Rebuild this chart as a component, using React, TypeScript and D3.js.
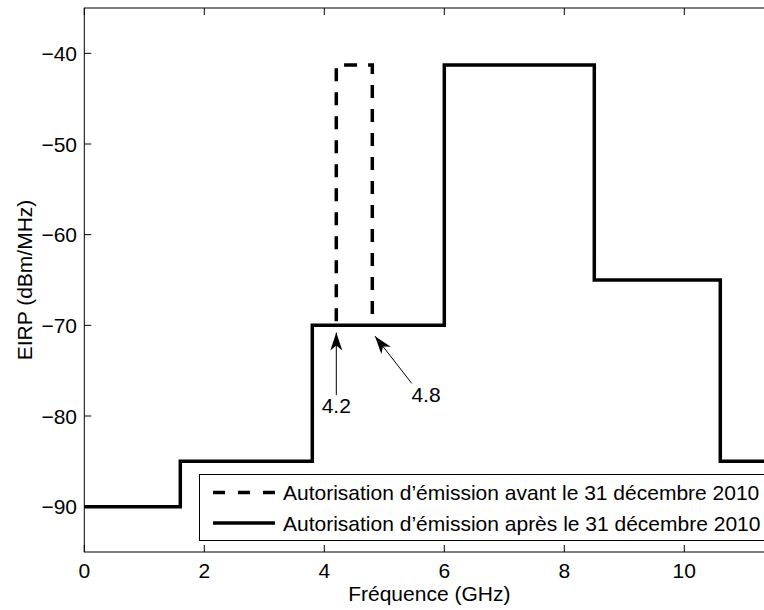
import React from "react";
import * as d3 from "d3";

// ---- data ----
const bandEdges = [0, 1.6, 3.8, 6.0, 8.5, 10.6, 11.5]; // GHz
const afterLevels = [-90, -85, -70, -41.3, -65, -85]; // dBm/MHz, after 31 Dec 2010
const beforeX = [4.2, 4.2, 4.8, 4.8]; // GHz, before 31 Dec 2010 (extra window)
const beforeY = [-70, -41.3, -41.3, -70];
const xTicks = [0, 2, 4, 6, 8, 10];
const yTicks = [-90, -80, -70, -60, -50, -40];
const xDomain = [0, 11.5];
const yDomain = [-95, -35];
const legendLabels = [
  "Autorisation d\u2019émission avant le 31 décembre 2010",
  "Autorisation d\u2019émission après le 31 décembre 2010",
];
const annotations = [
  { label: "4.2", tip: [4.2, -70.8], tail: [4.2, -77.7], text: [4.2, -79.7] },
  { label: "4.8", tip: [4.845, -71.2], tail: [5.457, -76.4], text: [5.695, -78.5] },
];
const xLabel = "Fréquence (GHz)";
const yLabel = "EIRP (dBm/MHz)";

const W = 764;
const H = 610;
const M = { left: 84.3, top: 8, right: 774.3, bottom: 552 };
const FONT = "'Liberation Sans', Arial, Helvetica, sans-serif";
const FS = 21;

function fmt(v: number) {
  return v < 0 ? "\u2212" + Math.abs(v) : String(v);
}

export default function App() {
  const x = d3.scaleLinear().domain(xDomain).range([M.left, M.right]);
  const y = d3.scaleLinear().domain(yDomain).range([M.bottom, M.top]);

  const afterPts: [number, number][] = [];
  afterLevels.forEach((lv, i) => {
    afterPts.push([bandEdges[i], lv]);
    afterPts.push([bandEdges[i + 1], lv]);
  });
  const beforePts: [number, number][] = beforeX.map((v, i) => [v, beforeY[i]]);

  const line = d3
    .line<[number, number]>()
    .x((d) => x(d[0]))
    .y((d) => y(d[1]));

  const dash = "13 11";
  const lw = 3.5;

  const arrowHead = (tx: number, ty: number, sx: number, sy: number) => {
    const ang = Math.atan2(ty - sy, tx - sx);
    const L = 18;
    const Wd = 6;
    const back = 13;
    const c = Math.cos(ang);
    const s = Math.sin(ang);
    const p = (a: number, b: number) => [tx + a * c - b * s, ty + a * s + b * c];
    const pts = [p(0, 0), p(-L, -Wd), p(-back, 0), p(-L, Wd)];
    return pts.map((q) => q.join(",")).join(" ");
  };

  const clipId = "plotclip";
  const legX = 199.5;
  const legY = 474.5;
  const legH = 66;
  const rowY = [492.5, 523];

  return (
    <svg
      width={W}
      height={H}
      style={{ position: "absolute", left: 0, top: 0, display: "block", background: "#fff" }}
      fontFamily={FONT}
    >
      <defs>
        <clipPath id={clipId}>
          <rect x={M.left} y={M.top} width={M.right - M.left} height={M.bottom - M.top} />
        </clipPath>
      </defs>
      <rect x={0} y={0} width={W} height={H} fill="#fff" />

      {/* ticks */}
      {xTicks.map((t) => (
        <g key={"xt" + t}>
          <line x1={x(t)} x2={x(t)} y1={M.bottom} y2={M.bottom - 7} stroke="#000" strokeWidth={1} />
          <line x1={x(t)} x2={x(t)} y1={M.top} y2={M.top + 7} stroke="#000" strokeWidth={1} />
          <text x={x(t)} y={578} textAnchor="middle" fontSize={FS}>
            {fmt(t)}
          </text>
        </g>
      ))}
      {yTicks.map((t) => (
        <g key={"yt" + t}>
          <line x1={M.left} x2={M.left + 7} y1={y(t)} y2={y(t)} stroke="#000" strokeWidth={1} />
          <line x1={M.right} x2={M.right - 7} y1={y(t)} y2={y(t)} stroke="#000" strokeWidth={1} />
          <text x={77} y={y(t)} dy="0.36em" textAnchor="end" fontSize={FS}>
            {fmt(t)}
          </text>
        </g>
      ))}

      {/* data lines */}
      <g clipPath={`url(#${clipId})`}>
        <path d={line(afterPts) || ""} fill="none" stroke="#000" strokeWidth={lw} strokeLinejoin="miter" />
        <path
          d={line(beforePts) || ""}
          fill="none"
          stroke="#000"
          strokeWidth={lw}
          strokeDasharray={dash}
          strokeDashoffset={-4}
        />
      </g>

      {/* axes box */}
      <rect
        x={M.left}
        y={M.top}
        width={M.right - M.left}
        height={M.bottom - M.top}
        fill="none"
        stroke="#000"
        strokeWidth={1}
      />

      {/* annotations */}
      {annotations.map((a) => {
        const tx = x(a.tip[0]);
        const ty = y(a.tip[1]);
        const sx = x(a.tail[0]);
        const sy = y(a.tail[1]);
        return (
          <g key={a.label}>
            <line x1={sx} y1={sy} x2={tx} y2={ty} stroke="#000" strokeWidth={1} />
            <polygon points={arrowHead(tx, ty, sx, sy)} fill="#000" />
            <text x={x(a.text[0])} y={y(a.text[1])} textAnchor="middle" fontSize={FS}>
              {a.label}
            </text>
          </g>
        );
      })}

      {/* legend */}
      <rect x={legX} y={legY} width={600} height={legH} fill="#fff" stroke="#000" strokeWidth={1} />
      <line
        x1={213}
        x2={275}
        y1={rowY[0]}
        y2={rowY[0]}
        stroke="#000"
        strokeWidth={lw}
        strokeDasharray="12 13"
      />
      <line x1={213} x2={275} y1={rowY[1]} y2={rowY[1]} stroke="#000" strokeWidth={lw} />
      {legendLabels.map((l, i) => (
        <text key={l} x={283} y={rowY[i]} dy="0.36em" fontSize={FS}>
          {l}
        </text>
      ))}

      {/* axis labels */}
      <text x={(M.left + M.right) / 2} y={601} textAnchor="middle" fontSize={FS}>
        {xLabel}
      </text>
      <text
        transform={`translate(32,${(M.top + M.bottom) / 2}) rotate(-90)`}
        textAnchor="middle"
        fontSize={FS}
      >
        {yLabel}
      </text>
    </svg>
  );
}
